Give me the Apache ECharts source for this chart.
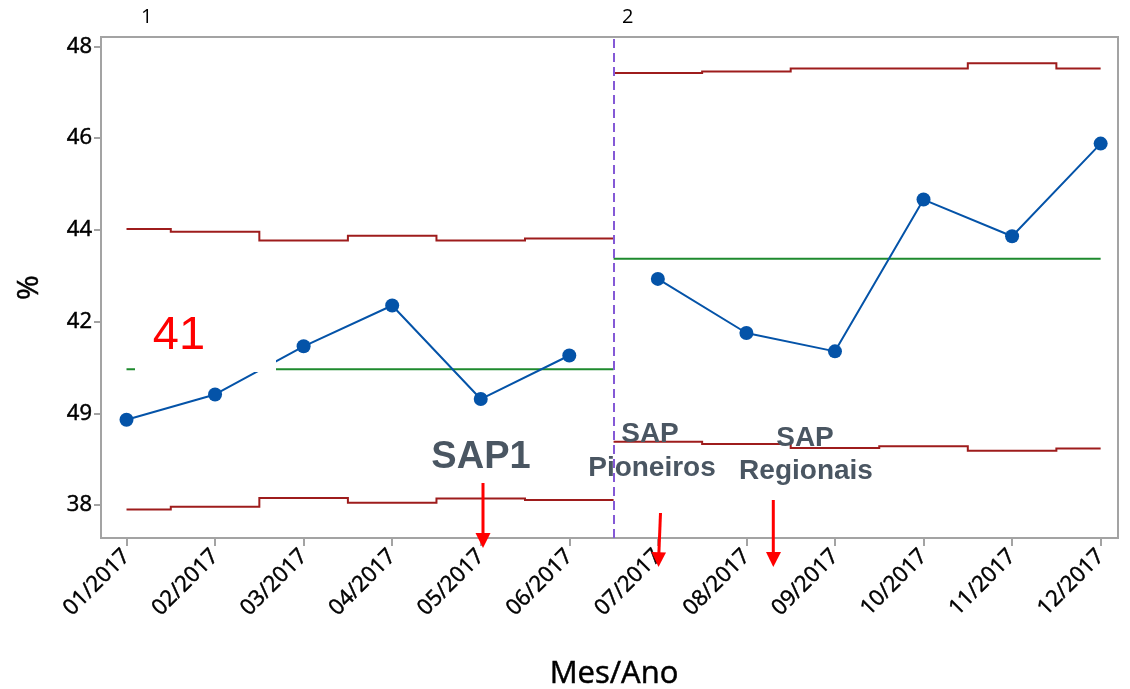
<!DOCTYPE html>
<html>
<head>
<meta charset="utf-8">
<title>Carta P por estágio</title>
<script src="https://cdn.jsdelivr.net/npm/echarts@6/dist/echarts.min.js"></script>
<style>
  html, body { margin: 0; padding: 0; background: #fff; }
  #chart { width: 1130px; height: 689px; }
</style>
</head>
<body>
<div id="chart"></div>
<script>
// eixo x
const months = ["01/2017", "02/2017", "03/2017", "04/2017", "05/2017", "06/2017",
  "07/2017", "08/2017", "09/2017", "10/2017", "11/2017", "12/2017"];
const monthPos = [1, 2, 3, 4, 5, 6, 7, 8, 9, 10, 11, 12];
// % por mes
const percent = [39.86, 40.41, 41.46, 42.35, 40.31, 41.26, 42.93, 41.75, 41.35, 44.66, 43.86, 45.88];
// estagio de cada mes
const stage = [1, 1, 1, 1, 1, 1, 2, 2, 2, 2, 2, 2];
const stageNames = ["1", "2"];
const centerLine = [40.96, 43.37];
const ucl = [44.02, 43.96, 43.77, 43.87, 43.77, 43.81, 47.42, 47.45, 47.52, 47.52, 47.63, 47.52];
const lcl = [37.90, 37.96, 38.15, 38.05, 38.14, 38.11, 39.38, 39.33, 39.24, 39.28, 39.18, 39.23];
// eixo y (o rotulo de 40 aparece como "49" no original)
const yTicks = [38, 40, 42, 44, 46, 48];
const yTickLabels = ["38", "49", "42", "44", "46", "48"];

const RED = "#9e1c1c";
const GREEN = "#1e8a2e";
const BLUE = "#0453a8";
const stages = [1, 2];

function stageIdx(s) {
  return monthPos.map((x, i) => i).filter(i => stage[i] === s);
}
function stageRange(s) {
  const idx = stageIdx(s);
  const first = monthPos[idx[0]], last = monthPos[idx[idx.length - 1]];
  return [s === stages[0] ? first : first - 0.5, s === stages[stages.length - 1] ? last : last + 0.5];
}
// limites em degraus: cada mes vai de x-0.5 a x+0.5 (cortado no estagio)
function stepLine(values, s) {
  const [a, b] = stageRange(s);
  const pts = [];
  stageIdx(s).forEach(i => {
    pts.push([Math.max(monthPos[i] - 0.5, a), values[i]]);
    pts.push([Math.min(monthPos[i] + 0.5, b), values[i]]);
  });
  return pts;
}

const series = [];
stages.forEach((s, k) => {
  const [a, b] = stageRange(s);
  series.push({
    type: "lines", coordinateSystem: "cartesian2d", polyline: true, silent: true, z: 2,
    lineStyle: { color: RED, width: 2, opacity: 1 },
    data: [{ coords: stepLine(ucl, s) }, { coords: stepLine(lcl, s) }]
  });
  series.push({ type: "line", data: [[a, centerLine[k]], [b, centerLine[k]]], symbol: "none",
    lineStyle: { color: GREEN, width: 2 }, z: 2 });
  const pts = stageIdx(s).map(i => [monthPos[i], percent[i]]);
  const line = {
    type: "line", data: pts, symbol: "circle", symbolSize: 14,
    itemStyle: { color: BLUE }, lineStyle: { color: BLUE, width: 2 }, z: 4
  };
  if (k > 0) {
    line.markLine = {
      silent: true, symbol: ["none", "none"], label: { show: false },
      lineStyle: { color: "#8459d6", type: [9, 5], width: 2 },
      data: [{ xAxis: a }]
    };
  }
  series.push(line);
});

const textFont = { fontFamily: "Open Sans", color: "#000", textBorderColor: "#000", textBorderWidth: 0.5 };

const chart = echarts.init(document.getElementById("chart"));
chart.setOption({
  animation: false,
  grid: {
    left: 101, right: 12, top: 37, bottom: 151, outerBoundsMode: "none",
    show: true, borderColor: "#a3a3a3", borderWidth: 2
  },
  xAxis: {
    type: "value", min: 0.712, max: 12.196,
    name: "Mes/Ano", nameLocation: "middle", nameGap: 121,
    nameTextStyle: Object.assign({ fontSize: 31, padding: [0, 0, 0, 9] }, textFont),
    axisLine: { show: false },
    splitLine: { show: false },
    axisTick: { show: true, customValues: monthPos, length: 8, lineStyle: { color: "#a3a3a3", width: 2 } },
    axisLabel: Object.assign({
      customValues: monthPos, rotate: 45, margin: 15, fontSize: 22,
      formatter: v => months[monthPos.indexOf(v)]
    }, textFont)
  },
  yAxis: {
    type: "value", min: 37.28, max: 48.205,
    name: "%", nameLocation: "middle", nameGap: 57, nameRotate: 90,
    nameTextStyle: Object.assign({ fontSize: 30 }, textFont),
    axisLine: { show: false },
    splitLine: { show: false },
    axisTick: { show: true, customValues: yTicks, length: 7, lineStyle: { color: "#a3a3a3", width: 2 } },
    axisLabel: Object.assign({
      customValues: yTicks, margin: 9, fontSize: 22,
      formatter: v => yTickLabels[yTicks.indexOf(v)]
    }, textFont)
  },
  series: series,
  graphic: [
    // rotulos dos estagios
    { type: "text", left: 141, top: 7, z: 20, style: { text: stageNames[0], fontFamily: "Open Sans", fontSize: 20, fill: "#000" } },
    { type: "text", left: 622, top: 7, z: 20, style: { text: stageNames[1], fontFamily: "Open Sans", fontSize: 20, fill: "#000" } },
    // anotacoes coladas na imagem
    { type: "rect", z: 20, shape: { x: 135, y: 330, width: 141, height: 42 }, style: { fill: "#fff" } },
    { type: "text", z: 21, x: 179, y: 336, style: { text: "41", fontFamily: "Liberation Sans", fontSize: 47, fill: "#ff0000", align: "center", verticalAlign: "middle" } },
    { type: "text", z: 21, x: 481, y: 458, style: { text: "SAP1", fontFamily: "Liberation Sans", fontWeight: "bold", fontSize: 38, fill: "#4a5662", align: "center", verticalAlign: "middle" } },
    { type: "text", z: 21, x: 650, y: 434, style: { text: "SAP", fontFamily: "Liberation Sans", fontWeight: "bold", fontSize: 28, fill: "#4a5662", align: "center", verticalAlign: "middle" } },
    { type: "text", z: 21, x: 652, y: 468, style: { text: "Pioneiros", fontFamily: "Liberation Sans", fontWeight: "bold", fontSize: 28, fill: "#4a5662", align: "center", verticalAlign: "middle" } },
    { type: "text", z: 21, x: 805, y: 438, style: { text: "SAP", fontFamily: "Liberation Sans", fontWeight: "bold", fontSize: 28, fill: "#4a5662", align: "center", verticalAlign: "middle" } },
    { type: "text", z: 21, x: 806, y: 471, style: { text: "Regionais", fontFamily: "Liberation Sans", fontWeight: "bold", fontSize: 28, fill: "#4a5662", align: "center", verticalAlign: "middle" } },
    // setas
    { type: "line", z: 21, shape: { x1: 483, y1: 483, x2: 483, y2: 536 }, style: { stroke: "#ff0000", lineWidth: 3 } },
    { type: "polygon", z: 21, shape: { points: [[475.5, 533], [490.5, 533], [483, 548]] }, style: { fill: "#ff0000" } },
    { type: "line", z: 21, shape: { x1: 660.5, y1: 513, x2: 658.8, y2: 555 }, style: { stroke: "#ff0000", lineWidth: 3 } },
    { type: "polygon", z: 21, shape: { points: [[651.5, 552], [666, 552.5], [658.5, 567]] }, style: { fill: "#ff0000" } },
    { type: "line", z: 21, shape: { x1: 773.3, y1: 500, x2: 773.3, y2: 555 }, style: { stroke: "#ff0000", lineWidth: 3 } },
    { type: "polygon", z: 21, shape: { points: [[766, 552], [781, 552], [773.3, 567]] }, style: { fill: "#ff0000" } }
  ]
});
</script>
</body>
</html>
